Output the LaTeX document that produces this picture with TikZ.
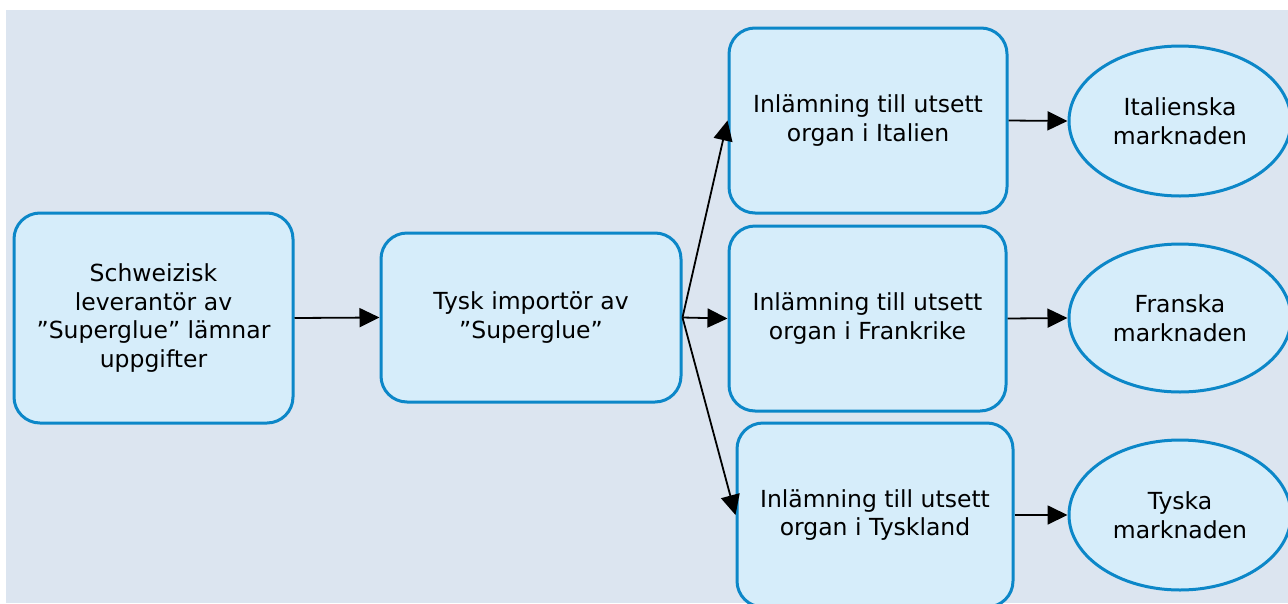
\documentclass[tikz,border=0pt]{standalone}
\usepackage{fontspec}
\setmainfont{DejaVu Sans}
\usetikzlibrary{arrows.meta,shapes.geometric}
\definecolor{panel}{RGB}{220,229,240}
\definecolor{boxfill}{RGB}{214,237,250}
\definecolor{boxline}{RGB}{12,135,200}
\tikzset{
  flowbox/.style={draw=boxline, fill=boxfill, line width=3pt, rounded corners=26pt,
    align=center, inner sep=0pt, font=\fontsize{23.5}{28.5}\selectfont},
  market/.style={ellipse, draw=boxline, fill=boxfill, line width=3pt,
    align=center, inner sep=0pt, font=\fontsize{23.5}{28.5}\selectfont},
  flow/.style={line width=1.8pt, -{Triangle[length=20pt,width=19pt]}}
}
\begin{document}
\begin{tikzpicture}[x=1pt,y=-1pt]
\useasboundingbox (0,0) rectangle (1288,603);
\fill[panel] (6,10) rectangle (1288,603);

\node[flowbox, minimum width=279pt, minimum height=210pt] (sup) at (153.5,318)
  {Schweizisk\\leverantör av\\”Superglue” lämnar\\uppgifter};
\node[flowbox, minimum width=300pt, minimum height=169pt] (imp) at (531,317.5)
  {Tysk importör av\\”Superglue”};
\node[flowbox, minimum width=278pt, minimum height=185pt] (ita) at (868,120.5)
  {Inlämning till utsett\\organ i Italien};
\node[flowbox, minimum width=277pt, minimum height=185pt] (fra) at (867.5,318.5)
  {Inlämning till utsett\\organ i Frankrike};
\node[flowbox, minimum width=276pt, minimum height=184pt] (tys) at (875,515)
  {Inlämning till utsett\\organ i Tyskland};

\node[market, minimum width=222pt, minimum height=150pt] (mita) at (1180,121)
  {Italienska\\marknaden};
\node[market, minimum width=222pt, minimum height=148pt] (mfra) at (1180,318)
  {Franska\\marknaden};
\node[market, minimum width=222pt, minimum height=150pt] (mtys) at (1180,515)
  {Tyska\\marknaden};

\draw[flow] (sup.east) -- (imp.west);
\draw[flow] (imp.east) -- (ita.west);
\draw[flow] (imp.east) -- (fra.west);
\draw[flow] (imp.east) -- (tys.west);
\draw[flow] (ita.east) -- (mita.west);
\draw[flow] (fra.east) -- (mfra.west);
\draw[flow] (tys.east) -- (mtys.west);
\end{tikzpicture}
\end{document}
